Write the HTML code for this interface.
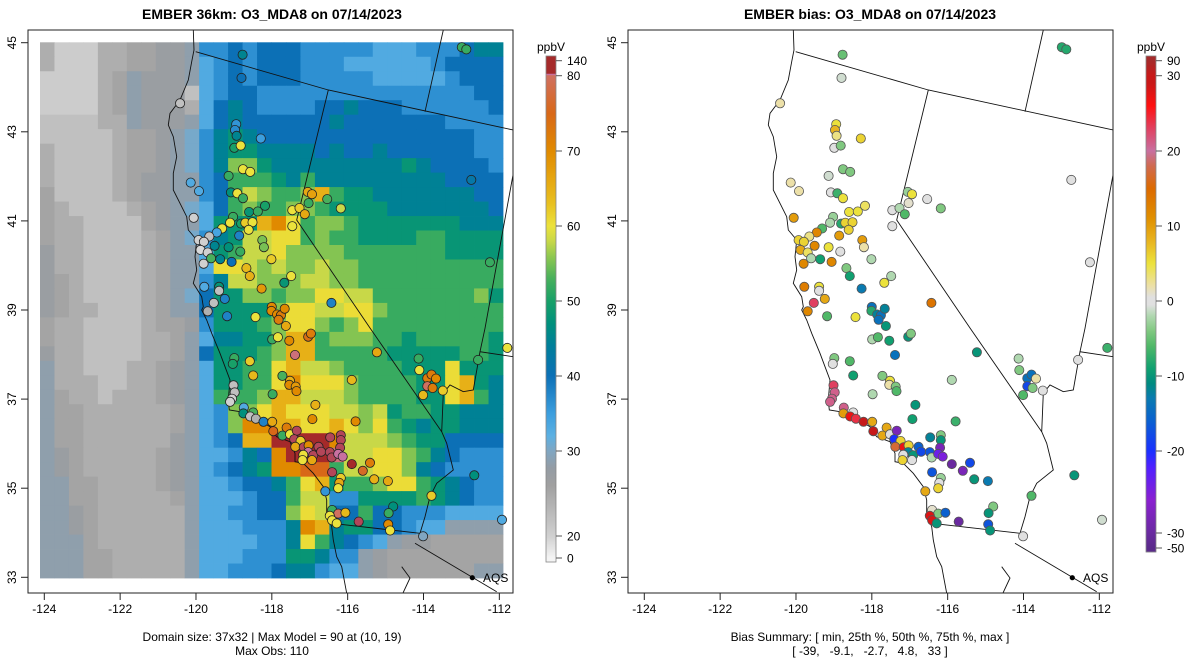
<!DOCTYPE html>
<html><head><meta charset="utf-8"><title>EMBER O3_MDA8</title>
<style>
html,body{margin:0;padding:0;background:#fff;}
svg{display:block;font-family:"Liberation Sans",Arial,sans-serif;}
</style></head>
<body>
<svg id="fig" width="1200" height="672" viewBox="0 0 1200 672" xmlns="http://www.w3.org/2000/svg">
<defs>
<clipPath id="clipL"><rect x="28" y="30" width="485" height="563"/></clipPath>
<clipPath id="clipR"><rect x="628" y="30" width="485" height="563"/></clipPath>
</defs>
<rect width="1200" height="672" fill="#fff"/>
<text x="272" y="19" text-anchor="middle" font-size="14" font-weight="bold">EMBER 36km: O3_MDA8 on 07/14/2023</text>
<text x="870" y="19" text-anchor="middle" font-size="14" font-weight="bold">EMBER bias: O3_MDA8 on 07/14/2023</text>
<text x="272" y="641" text-anchor="middle" font-size="12">Domain size: 37x32 | Max Model = 90 at (10, 19)</text>
<text x="272" y="655" text-anchor="middle" font-size="12">Max Obs: 110</text>
<text x="870" y="641" text-anchor="middle" font-size="12">Bias Summary: [ min, 25th %, 50th %, 75th %, max ]</text>
<text x="870" y="655" text-anchor="middle" font-size="12" xml:space="preserve">[ -39,   -9.1,   -2.7,   4.8,   33 ]</text>
<g id="gL"></g>
<g id="gR"></g>
</svg>
<script>
// ---------- data ----------
const lonTicks = [-124,-122,-120,-118,-116,-114,-112];
const latTicks = [33,35,37,39,41,43,45];
const obsBarTicks = [0,20,30,40,50,60,70,80,140];
const biasBarTicks = [-50,-30,-20,-10,0,10,20,30,90];
// model grid, one char per cell (value bins decoded via codeValues)
const codeKeys = "abcdefg56789ABCDEFIHG";
const codeValues = [20.5,22,24.2,25.5,27,28.5,30.5,33,36.5,40,44.5,48,52,55.5,58,60.5,65,70,75,82,90];
const gridRows = [
"caaaccddeef"+"667677766666555666788",
"caaaccddeef"+"567677766655555567777",
"aaaacdfeeef"+"567677766666555556777",
"aaaacdfeeeb"+"567766666666666666677",
"aaaacdfeeec"+"578766667787776666667",
"bbbbccfeeef"+"578777777877777776666",
"bbbbbcddefg"+"689877777777777777766",
"cbbbbcddefg"+"689988887877877777766",
"cbbbbcddefg"+"68BB98888888889877776",
"cbbbbcdeeff"+"67AAA98A8888888887777",
"dbbbbcdeeff"+"67ACBAABEA99888888877",
"dcbbbbcdefg"+"57ABAABBA999988888887",
"dccbbbbdeff"+"5999EFDABBA9999999888",
"dccbbbbcdfg"+"689CCDDABAA9999AA9999",
"eccbbbbcdff"+"59ACCDBBBBAAAAAAA9999",
"eccbbbbcdff"+"5DDCBCBBCBBAAAAAAAAAA",
"edcbbbbcdff"+"68CCBBBCCBBAAAAAAAAAA",
"edcbbbbcdfg"+"799BBABBDDCCAAAAAAAB9",
"edccbbbcdff"+"79999BDDCCDDBAAAAAAAA",
"dccbbbbcdde"+"6999ABDDBABDAAAAAAAAA",
"dccbbbbccdf"+"58899BEEABBBAA9AAAAA9",
"eccbbbbccdf"+"7999ABEEAAAAA99999AA9",
"fccbbbccdef"+"599AADECCBAAAA999D999",
"fcccbbccdef"+"599AADFDDDBAAAA99DE98",
"fdccbcccdef"+"5AAABEECCCBAAAA99DEA8",
"fddccccccdf"+"56BBDEDDDCCBC9AA99888",
"fddccccccdf"+"56BFFEEDDEDBDA9899888",
"fddccccccef"+"567EEGGGGFCCCBA997777",
"fedcccccdef"+"55687FGGGHCCDDBA87666",
"fedcccccdef"+"56789FFIIACCDDB876666",
"ffddccccdef"+"556778ADE9AABDDA98766",
"ffddcccccdf"+"555677ACC669999A98766",
"ffedccccccf"+"556677BDC77A776665555",
"ffedccccccf"+"5556668FE89977655ffff",
"fffdccccccf"+"5555668DA8765feeddddd",
"fffddcccccf"+"55566699866fedddddddd",
"fffddcccccf"+"55666788655feddddddff"
];
const siteLon = [-118.77,-118.80,-120.42,-118.94,-118.97,-118.93,-118.29,-118.99,-118.82,-119.14,-118.76,-118.57,-120.14,-119.92,-119.08,-118.91,-118.76,-118.18,-117.05,-116.94,-117.03,-116.54,-116.18,-117.46,-117.27,-117.13,-117.46,-120.06,-119.02,-119.10,-118.81,-118.60,-118.37,-118.70,-118.51,-118.61,-119.31,-119.45,-118.86,-119.65,-119.93,-119.79,-119.51,-119.14,-119.88,-119.69,-118.83,-119.60,-119.36,-119.80,-119.06,-118.25,-118.21,-118.01,-118.67,-118.58,-117.49,-117.67,-118.27,-119.78,-119.39,-119.39,-119.24,-119.53,-119.69,-119.18,-118.43,-116.43,-118.00,-118.01,-117.86,-117.76,-117.66,-117.82,-117.63,-112.99,-112.87,-112.74,-112.25,-117.99,-117.84,-117.54,-117.04,-116.97,-117.39,-115.23,-118.99,-119.03,-118.58,-118.49,-117.72,-117.52,-117.54,-117.37,-117.35,-117.98,-115.89,-116.85,-116.93,-115.79,-114.13,-114.11,-113.90,-113.79,-113.67,-113.90,-113.76,-113.49,-114.01,-112.56,-111.79,-112.66,-111.93,-113.79,-114.01,-119.01,-118.98,-119.05,-119.10,-118.74,-118.49,-118.75,-118.57,-118.42,-118.22,-117.99,-117.96,-117.61,-117.72,-117.52,-117.34,-117.41,-117.24,-117.38,-117.16,-117.03,-117.04,-116.91,-117.17,-117.19,-116.94,-116.77,-116.70,-116.47,-116.42,-116.46,-116.18,-116.18,-116.20,-116.25,-116.13,-115.89,-115.60,-115.41,-116.41,-116.18,-116.22,-116.25,-115.30,-114.94,-116.59,-116.41,-116.25,-116.06,-116.47,-116.41,-116.29,-115.71,-114.80,-114.92,-114.93,-114.88];
const siteLat = [44.73,44.21,43.64,43.17,43.04,42.91,42.85,42.64,42.69,42.01,42.16,42.10,41.86,41.67,41.64,41.62,41.51,41.34,41.65,41.60,41.40,41.49,41.28,41.24,41.29,41.15,40.88,41.07,41.09,40.96,40.94,41.20,41.21,40.96,40.97,40.80,40.83,40.74,40.67,40.65,40.57,40.53,40.44,40.41,40.35,40.29,40.31,40.16,40.14,40.04,40.08,40.57,40.41,40.14,39.94,39.76,39.76,39.61,39.48,39.52,39.52,39.43,39.25,39.16,38.97,38.86,38.84,39.16,39.07,38.98,38.90,38.88,39.03,38.78,38.64,44.90,44.85,41.92,40.07,38.34,38.39,38.31,38.40,38.47,37.99,38.05,37.92,37.79,37.85,37.53,37.52,37.41,37.32,37.28,37.18,37.11,37.43,36.87,36.55,36.50,37.91,37.65,37.47,37.55,37.46,37.29,37.25,37.19,37.09,37.88,38.15,35.29,34.29,34.83,33.92,37.31,37.15,37.01,36.94,36.81,36.70,36.68,36.61,36.56,36.49,36.49,36.28,36.36,36.18,36.21,36.29,36.10,36.06,35.93,35.92,35.96,35.81,35.74,35.75,35.63,35.63,35.93,35.82,35.81,35.69,36.14,36.19,36.08,35.91,35.77,35.71,35.54,35.39,35.57,35.36,35.23,35.12,35.00,35.20,35.16,34.93,34.51,34.43,34.45,34.38,34.28,34.21,34.25,34.59,34.44,34.19,34.05];
const siteObs = [45,40,22,36,37,45,35,50,60,52,60,60,33,33,47,60,52,50,66,67,52,53,58,60,62,66,60,20,52,60,50,48,52,62,60,60,60,34,38,22,20,20,45,47,15,20,52,53,45,20,40,55,55,62,64,65,60,48,68,33,48,22,38,22,24,38,60,38,70,70,70,72,70,72,66,52,52,42,52,52,60,70,74,72,82,66,52,50,62,64,53,65,70,68,70,52,64,65,70,70,52,60,72,72,70,80,72,62,64,52,60,47,33,62,30,22,22,20,20,33,53,47,22,24,38,66,75,72,52,60,88,88,62,66,88,70,85,88,60,60,66,88,88,88,88,88,88,88,88,85,85,90,76,72,88,62,66,60,65,66,36,52,80,64,60,60,60,88,47,52,70,60];
const siteBias = [-5,-1,2,5,8,3,6,0,-4,-1,-4,-4,2,2,0,-7,5,4,-3,5,1,0,-4,0,-2,-6,0,10,-3,-2,-8,5,5,6,6,6,-6,12,10,3,6,6,12,5,9,4,0,-2,-9,12,12,10,2,-2,-4,-9,-2,5,-13,13,5,0,9,23,12,-6,5,14,-14,-8,-12,-14,-12,-14,-10,-8,-8,0,0,-2,-6,-9,-10,-4,-14,-10,-4,0,-6,-9,-4,5,2,-4,-6,-2,-2,-10,-9,-7,-2,-4,-14,-14,2,-18,-4,0,-6,0,-7,-10,-1,-6,0,23,21,21,21,21,0,10,27,24,32,9,30,9,9,0,-28,-20,6,17,27,6,-12,-10,0,6,0,-16,-18,-17,-2,-12,-4,-10,-28,-24,-25,-30,-28,-18,-17,-3,0,6,-10,-13,9,1,-4,-16,28,28,-10,-30,-4,-10,-17,-10];

// ---------- colour scales ----------
const obsStops = [[0,"#f4f4f4"],[20,"#d0d0d0"],[24,"#b0b0b0"],[26,"#a0a0a0"],[28,"#949ca4"],[30,"#80a6c2"],[32,"#5cb0e2"],[35,"#3c9ede"],[40,"#0c70b6"],[44,"#007e9a"],[47,"#00907c"],[50,"#18a068"],[53,"#48b05c"],[56,"#90c850"],[58,"#c8d848"],[60,"#ece23c"],[63,"#e8c020"],[66,"#e6a812"],[70,"#e08a00"],[75,"#d86818"],[80,"#d07060"],[85,"#c870a0"],[90,"#a52a2a"],[140,"#a52a2a"]];
const biasStops = [[-50,"#5a2a8a"],[-30,"#6a2aa0"],[-26,"#8a20d0"],[-22,"#5020ff"],[-20,"#1a30ff"],[-16,"#0a60d0"],[-13,"#0a7ab0"],[-11,"#008a80"],[-9,"#10a070"],[-6,"#50b868"],[-4,"#80c880"],[-2,"#b0d8b0"],[-0.5,"#e0e0e0"],[0.5,"#e0e0e0"],[2,"#ece0a8"],[5,"#ece23c"],[8,"#e8b420"],[11,"#e09000"],[15,"#dc6a00"],[18,"#d06a50"],[20,"#c870a0"],[23,"#e04060"],[26,"#ff1010"],[29,"#c81818"],[90,"#a52a2a"]];
function hx(c){return [parseInt(c.substr(1,2),16),parseInt(c.substr(3,2),16),parseInt(c.substr(5,2),16)];}
function cmap(stops,v){
  if(v<=stops[0][0])return stops[0][1];
  for(let i=1;i<stops.length;i++){
    if(v<=stops[i][0]){
      const a=stops[i-1],b=stops[i],t=(v-a[0])/(b[0]-a[0]);
      const ca=hx(a[1]),cb=hx(b[1]);
      return "rgb("+ca.map((x,k)=>Math.round(x+(cb[k]-x)*t)).join(",")+")";
    }
  }
  return stops[stops.length-1][1];
}
// ---------- axes ----------
const NS="http://www.w3.org/2000/svg";
function el(tag,attrs,parent){const e=document.createElementNS(NS,tag);for(const k in attrs)e.setAttribute(k,attrs[k]);parent.appendChild(e);return e;}
const X0=44.3, PXDEG=37.92, Y45=42.7, PYDEG=44.55;
// P = horizontal panel shift (0 left, 600 right)
function xScale(lon,P){return P+X0+(lon+124)*PXDEG;}
function yScale(lat){return Y45+(45-lat)*PYDEG;}
const obsBarY=[558,536,451,376,301,226,151,75.7,60.7];
const biasBarY=[548,533,451,376,301,226,151,75.7,60.7];
function barPos(ticks,ys,v){
  for(let i=1;i<ticks.length;i++){if(v<=ticks[i]||i===ticks.length-1){const t=(v-ticks[i-1])/(ticks[i]-ticks[i-1]);return ys[i-1]+(ys[i]-ys[i-1])*t;}}
}
function barInv(ticks,ys,y){
  for(let i=1;i<ys.length;i++){if(y>=ys[i]||i===ys.length-1){const t=(y-ys[i-1])/(ys[i]-ys[i-1]);return ticks[i-1]+(ticks[i]-ticks[i-1])*t;}}
}
// outlines (pixel geometry in right-panel frame)
const coast=[[793.3,30],[794,50],[791.7,61.7],[788.3,80],[780,100],[770,113.3],[768.3,125],[773.3,136.7],[776.7,156.7],[773.3,173.3],[773.3,190],[780,203.3],[786.7,216.7],[788.3,230],[796.7,240],[795,256.7],[796.7,270],[793.3,283.3],[801.7,296.7],[803.3,306.7],[801.7,310],[806.7,320],[811.7,333.3],[820,353.3],[825,366.7],[830,380],[828.3,400],[829.3,410],[840,411.7],[853.3,416.7],[870,426.7],[876.7,436.7],[890,441.7],[895,453.3],[895,461.7],[903.3,463.3],[913.3,473.3],[923.3,486.7],[926.7,500],[926.7,513.3],[931.7,526.7],[933.3,540],[936.7,556.7],[941.7,566.7],[946.7,593.3]];
const borders=[
 [[795.7,51.7],[928.3,90],[1113.3,130]],
 [[1043.3,30],[1025,111.7]],
 [[928.3,90],[896.7,220],[970,328],[1041.7,431.7]],
 [[1113.3,173.3],[1085,328.3],[1080,351.7],[1113.3,356.7]],
 [[1080,351.7],[1073.3,390],[1063.3,391.7],[1050,385],[1043.3,393.3],[1041.7,431.7],[1046.7,443.3],[1053.3,470],[1036.7,483.3],[1030,496.7],[1025,516.7],[1020,533.3]],
 [[931.7,523.3],[1020,533.3]],
 [[1015,543.3],[1096.7,591.7]],
 [[1001.7,566.7],[1010,578],[1003,593]]
];

function drawPanel(g,P,isObs){
  const clip=el('g',{'clip-path':isObs?'url(#clipL)':'url(#clipR)'},g);
  
  
  if(isObs){
    const nR=gridRows.length,nC=32,gx0=40,gx1=503,gy0=42.3,gy1=578;
    const cw=(gx1-gx0)/nC,chh=(gy1-gy0)/nR;
    const rg=el('g',{},clip);
    
    
    for(let r=0;r<nR;r++){for(let c=0;c<nC;c++){
      const code=gridRows[r][c]||'5';const v=codeValues[codeKeys.indexOf(code)];
      const rc=el('rect',{x:(gx0+c*cw).toFixed(2),y:(gy0+r*chh).toFixed(2),width:(cw+0.4).toFixed(2),height:(chh+0.4).toFixed(2),fill:cmap(obsStops,v)},rg);
      
      
    }}
  }
  const sh=P-600;
  const cp=el('polyline',{points:coast.map(p=>(p[0]+sh)+','+p[1]).join(' '),fill:'none',stroke:'#111','stroke-width':0.9},clip);
  
  
  borders.forEach(b=>{
    const bl=el('polyline',{points:b.map(p=>(p[0]+sh)+','+p[1]).join(' '),fill:'none',stroke:'#111','stroke-width':0.9},clip);
    
    
  });
  for(let i=0;i<siteLon.length;i++){
    const v=isObs?siteObs[i]:siteBias[i];
    const c=el('circle',{cx:xScale(siteLon[i],P).toFixed(1),cy:yScale(siteLat[i]).toFixed(1),r:4.6,fill:isObs?cmap(obsStops,v):cmap(biasStops,v),stroke:isObs?'#222':'#555','stroke-width':0.8},clip);
    
    
  }
  const dot=el('circle',{cx:472.3+P,cy:577.7,r:2.6,fill:'#000'},clip);
  
  
  const aqs=el('text',{x:483+P,y:582,'font-size':12},g);
  aqs.textContent='AQS';
  
  
  const fr=el('rect',{x:28+P,y:30,width:485,height:563,fill:'none',stroke:'#222','stroke-width':1},g);
  
  
  lonTicks.forEach(t=>{
    const x=xScale(t,P);
    const tk=el('line',{x1:x,x2:x,y1:593,y2:600,stroke:'#222'},g);
    
    
    const tl=el('text',{x:x,y:613,'text-anchor':'middle','font-size':12},g);
    tl.textContent=String(t);
    
    
  });
  latTicks.forEach(t=>{
    const y=yScale(t);
    const tk=el('line',{x1:21+P,x2:28+P,y1:y,y2:y,stroke:'#222'},g);
    
    
    const tl=el('text',{x:0,y:0,'text-anchor':'middle','font-size':12,transform:'translate('+(16+P)+','+y+') rotate(-90)'},g);
    tl.textContent=String(t);
    
    
  });
  const ticks=isObs?obsBarTicks:biasBarTicks, ys=isObs?obsBarY:biasBarY, stops=isObs?obsStops:biasStops;
  const bx=546+P, top=56, bot=isObs?562:552;
  const cb=el('g',{},g);
  
  
  for(let y=top;y<bot;y+=1){
    const v=barInv(ticks,ys,y+0.5);
    el('rect',{x:bx,y:y,width:10,height:1.2,fill:cmap(stops,v)},cb);
  }
  const cf=el('rect',{x:bx,y:top,width:10,height:bot-top,fill:'none',stroke:'#888','stroke-width':0.8},cb);
  
  
  ticks.forEach(t=>{
    const y=barPos(ticks,ys,t);
    const tk=el('line',{x1:bx+10,x2:bx+16,y1:y,y2:y,stroke:'#555'},cb);
    
    
    const tl=el('text',{x:bx+21,y:y+4.5,'font-size':12},cb);
    tl.textContent=String(t);
    
    
  });
  const un=el('text',{x:bx+5,y:51,'text-anchor':'middle','font-size':12},cb);
  un.textContent='ppbV';
  
  
}
drawPanel(document.getElementById('gL'),0,true);
drawPanel(document.getElementById('gR'),600,false);
</script>
</body></html>
